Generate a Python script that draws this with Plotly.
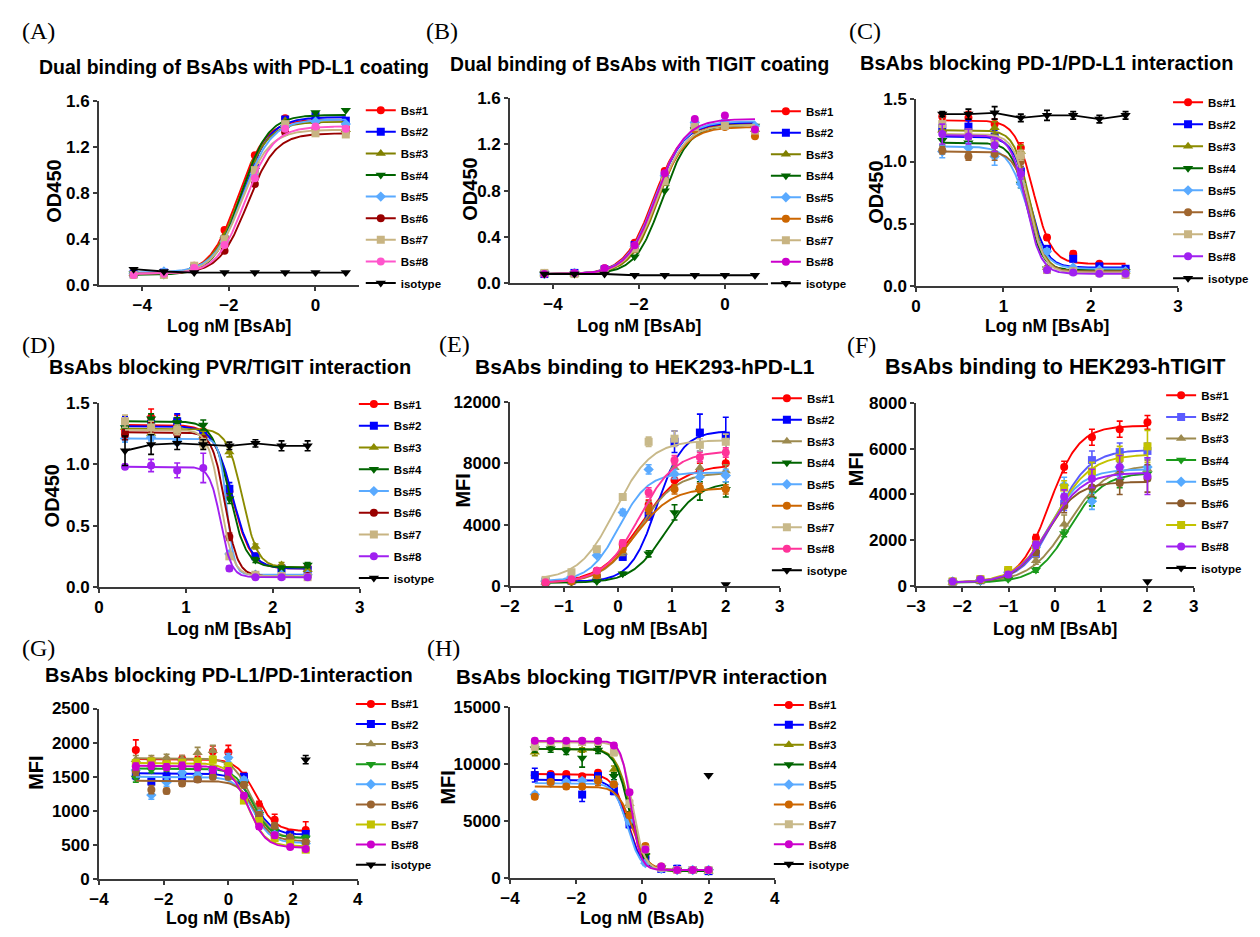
import numpy as np
import plotly.graph_objects as go

# ---------------- DATA ----------------
BS_NAMES = ["Bs#1", "Bs#2", "Bs#3", "Bs#4", "Bs#5", "Bs#6", "Bs#7", "Bs#8"]
BS_SYMBOLS = ["circle", "square", "triangle-up", "triangle-down", "diamond", "circle", "square", "circle"]

# (A) Dual binding with PD-L1 coating
A_x = [-4.2, -3.5, -2.8, -2.1, -1.4, -0.7, 0.0, 0.7]
A_y = [
    [0.09, 0.10, 0.17, 0.48, 1.13, 1.45, 1.44, 1.37],
    [0.10, 0.11, 0.15, 0.40, 1.02, 1.44, 1.47, 1.43],
    [0.10, 0.11, 0.16, 0.43, 1.08, 1.43, 1.42, 1.35],
    [0.10, 0.09, 0.14, 0.37, 1.00, 1.36, 1.50, 1.52],
    [0.10, 0.12, 0.15, 0.38, 0.97, 1.38, 1.42, 1.40],
    [0.09, 0.10, 0.13, 0.30, 0.88, 1.33, 1.36, 1.33],
    [0.09, 0.09, 0.17, 0.40, 1.00, 1.40, 1.32, 1.31],
    [0.09, 0.10, 0.15, 0.35, 0.93, 1.36, 1.38, 1.36],
]
A_iso = [0.14, 0.12, 0.11, 0.11, 0.11, 0.11, 0.11, 0.11]
A_bottom = [0.10, 0.10, 0.10, 0.09, 0.11, 0.10, 0.10, 0.10]
A_top = [1.44, 1.46, 1.42, 1.48, 1.44, 1.32, 1.35, 1.38]
A_logec50 = [-1.79, -1.70, -1.76, -1.72, -1.68, -1.57, -1.72, -1.62]
A_hill = [1.35, 1.35, 1.35, 1.4, 1.3, 1.35, 1.35, 1.35]
A_colors = ["#FF0000", "#0000FF", "#808000", "#006400", "#5AAAFF", "#990000", "#C8B482", "#FF55CC"]

# (B) Dual binding with TIGIT coating
B_x = [-4.2, -3.5, -2.8, -2.1, -1.4, -0.7, 0.0, 0.7]
B_y = [
    [0.09, 0.09, 0.13, 0.35, 0.97, 1.36, 1.37, 1.35],
    [0.08, 0.09, 0.12, 0.33, 0.93, 1.37, 1.38, 1.34],
    [0.08, 0.08, 0.11, 0.28, 0.86, 1.35, 1.36, 1.33],
    [0.08, 0.08, 0.10, 0.23, 0.80, 1.33, 1.37, 1.36],
    [0.08, 0.09, 0.12, 0.32, 0.93, 1.39, 1.40, 1.36],
    [0.08, 0.08, 0.12, 0.30, 0.90, 1.33, 1.35, 1.27],
    [0.09, 0.08, 0.11, 0.30, 0.88, 1.35, 1.36, 1.32],
    [0.08, 0.09, 0.13, 0.33, 0.95, 1.42, 1.45, 1.33],
]
B_iso = [0.08, 0.08, 0.08, 0.07, 0.07, 0.07, 0.07, 0.07]
B_bottom = [0.08, 0.08, 0.08, 0.08, 0.08, 0.08, 0.08, 0.08]
B_top = [1.38, 1.39, 1.37, 1.37, 1.40, 1.35, 1.37, 1.42]
B_logec50 = [-1.66, -1.62, -1.55, -1.46, -1.62, -1.58, -1.58, -1.60]
B_hill = [1.3, 1.3, 1.35, 1.4, 1.3, 1.3, 1.3, 1.3]
B_colors = ["#FF0000", "#0000FF", "#808000", "#006400", "#5AAAFF", "#CC6600", "#C8B482", "#CC00CC"]

# (C) Blocking PD-1/PD-L1 interaction
C_x = [0.3, 0.6, 0.9, 1.2, 1.5, 1.8, 2.1, 2.4]
C_y = [
    [1.36, 1.35, 1.30, 1.11, 0.39, 0.26, 0.18, 0.14],
    [1.27, 1.28, 1.20, 0.92, 0.30, 0.22, 0.16, 0.14],
    [1.25, 1.22, 1.27, 1.08, 0.15, 0.12, 0.11, 0.12],
    [1.17, 1.15, 1.12, 0.82, 0.14, 0.12, 0.12, 0.12],
    [1.08, 1.11, 1.04, 0.82, 0.28, 0.15, 0.13, 0.12],
    [1.09, 1.04, 1.06, 1.00, 0.14, 0.12, 0.11, 0.11],
    [1.30, 1.22, 1.16, 1.05, 0.13, 0.12, 0.11, 0.09],
    [1.22, 1.20, 1.13, 0.90, 0.13, 0.11, 0.10, 0.10],
]
C_err = [
    [0.03, 0.05, 0.04, 0.04, 0.02, 0.02, 0.01, 0.01],
    [0.04, 0.05, 0.05, 0.04, 0.02, 0.02, 0.01, 0.01],
    [0.05, 0.04, 0.05, 0.05, 0.01, 0.01, 0.01, 0.01],
    [0.04, 0.03, 0.04, 0.03, 0.01, 0.01, 0.01, 0.01],
    [0.05, 0.04, 0.07, 0.03, 0.02, 0.01, 0.01, 0.01],
    [0.03, 0.03, 0.05, 0.04, 0.01, 0.01, 0.01, 0.01],
    [0.06, 0.04, 0.04, 0.04, 0.01, 0.01, 0.01, 0.01],
    [0.08, 0.06, 0.05, 0.04, 0.01, 0.01, 0.01, 0.01],
]
C_iso = [1.38, 1.38, 1.39, 1.35, 1.37, 1.37, 1.34, 1.37]
C_iso_err = [0.02, 0.04, 0.05, 0.03, 0.04, 0.03, 0.03, 0.03]
C_bottom = [0.18, 0.15, 0.12, 0.13, 0.14, 0.12, 0.11, 0.10]
C_top = [1.33, 1.20, 1.25, 1.15, 1.12, 1.08, 1.22, 1.21]
C_logec50 = [1.345, 1.30, 1.30, 1.27, 1.27, 1.30, 1.29, 1.26]
C_hill = [-4.2, -4.5, -5.0, -5.0, -4.0, -5.0, -5.0, -5.0]
C_colors = ["#FF0000", "#0000FF", "#8B8B00", "#006400", "#5AAAFF", "#A0662E", "#C8B482", "#A020F0"]

# (D) Blocking PVR/TIGIT interaction
D_x = [0.3, 0.6, 0.9, 1.2, 1.5, 1.8, 2.1, 2.4]
D_y = [
    [1.27, 1.38, 1.35, 1.25, 0.78, 0.25, 0.16, 0.16],
    [1.33, 1.33, 1.35, 1.24, 0.80, 0.25, 0.15, 0.14],
    [1.30, 1.25, 1.31, 1.23, 1.10, 0.33, 0.18, 0.14],
    [1.30, 1.37, 1.34, 1.32, 0.72, 0.22, 0.15, 0.18],
    [1.21, 1.22, 1.19, 1.18, 0.27, 0.10, 0.10, 0.10],
    [1.24, 1.30, 1.25, 1.20, 0.41, 0.10, 0.09, 0.09],
    [1.35, 1.30, 1.28, 1.17, 0.25, 0.10, 0.09, 0.08],
    [0.98, 0.99, 0.95, 0.97, 0.15, 0.08, 0.08, 0.08],
]
D_err = [
    [0.05, 0.07, 0.05, 0.04, 0.04, 0.02, 0.02, 0.02],
    [0.06, 0.05, 0.06, 0.04, 0.05, 0.02, 0.02, 0.02],
    [0.05, 0.04, 0.04, 0.04, 0.04, 0.02, 0.02, 0.02],
    [0.04, 0.04, 0.04, 0.04, 0.04, 0.02, 0.02, 0.02],
    [0.03, 0.03, 0.03, 0.03, 0.02, 0.01, 0.01, 0.01],
    [0.04, 0.04, 0.03, 0.03, 0.03, 0.01, 0.01, 0.01],
    [0.05, 0.05, 0.04, 0.04, 0.02, 0.01, 0.01, 0.01],
    [0.02, 0.05, 0.06, 0.12, 0.02, 0.01, 0.01, 0.01],
]
D_iso = [1.11, 1.16, 1.17, 1.16, 1.15, 1.17, 1.15, 1.15]
D_iso_err = [0.12, 0.08, 0.05, 0.04, 0.03, 0.03, 0.04, 0.04]
D_bottom = [0.15, 0.15, 0.16, 0.16, 0.10, 0.09, 0.09, 0.08]
D_top = [1.32, 1.31, 1.29, 1.35, 1.21, 1.26, 1.28, 0.98]
D_logec50 = [1.53, 1.54, 1.65, 1.50, 1.47, 1.45, 1.40, 1.40]
D_hill = [-4.0, -4.0, -5.0, -4.5, -10.0, -6.0, -6.0, -7.0]
D_colors = ["#FF0000", "#0000FF", "#8B8B00", "#006400", "#5AAAFF", "#990000", "#C8B482", "#A020F0"]

# (E) Binding to HEK293-hPD-L1
E_x = [-1.34, -0.86, -0.39, 0.09, 0.57, 1.05, 1.52, 2.0]
E_y = [
    [250, 400, 1000, 2700, 5300, 6900, 7500, 8000],
    [300, 350, 500, 1900, 4600, 9400, 10000, 9800],
    [250, 300, 600, 2200, 5200, 7700, 7700, 7500],
    [200, 250, 300, 800, 2100, 4800, 6200, 6300],
    [300, 600, 2000, 4800, 7600, 7300, 7100, 7200],
    [200, 300, 700, 2400, 5000, 6300, 6400, 6300],
    [400, 900, 2400, 5800, 9400, 9600, 9200, 9400],
    [250, 450, 1000, 2800, 6100, 8200, 8400, 8700],
]
E_err = [
    [50, 50, 100, 200, 300, 300, 500, 600],
    [50, 50, 100, 200, 300, 700, 1200, 1200],
    [50, 50, 100, 200, 300, 300, 400, 400],
    [30, 30, 50, 100, 200, 500, 600, 500],
    [50, 50, 100, 200, 300, 300, 400, 400],
    [50, 50, 100, 200, 300, 300, 300, 300],
    [50, 50, 150, 200, 300, 500, 400, 500],
    [50, 50, 100, 200, 300, 300, 300, 300],
]
E_iso_x = [2.0]
E_iso = [100]
E_bottom = [200, 300, 200, 200, 300, 200, 400, 200]
E_top = [7900, 10100, 7400, 6800, 7400, 6400, 9500, 8800]
E_logec50 = [0.42, 0.72, 0.40, 0.88, 0.02, 0.32, -0.05, 0.40]
E_hill = [1.15, 1.8, 1.3, 1.4, 1.6, 1.3, 1.3, 1.3]
E_colors = ["#FF0000", "#0000FF", "#9C8A4F", "#006400", "#5AAAFF", "#CC6600", "#C8B98A", "#FF3399"]

# (F) Binding to HEK293-hTIGIT
F_x = [-2.21, -1.61, -1.01, -0.41, 0.2, 0.8, 1.4, 2.0]
F_y = [
    [200, 300, 700, 2100, 5200, 6500, 6850, 7150],
    [180, 250, 550, 1400, 3600, 5500, 5850, 5900],
    [150, 200, 450, 1100, 2700, 3900, 5000, 5100],
    [150, 200, 300, 700, 2300, 3800, 4600, 4900],
    [200, 250, 600, 1700, 4400, 3700, 5200, 5200],
    [200, 250, 500, 1500, 3500, 4300, 4500, 4700],
    [200, 300, 700, 1800, 4300, 5000, 5600, 6100],
    [200, 300, 500, 1800, 3900, 4700, 5200, 4800],
]
F_err = [
    [50, 50, 100, 150, 250, 350, 350, 300],
    [50, 50, 100, 150, 300, 400, 400, 350],
    [50, 50, 100, 150, 400, 400, 400, 400],
    [50, 50, 50, 100, 150, 300, 300, 300],
    [50, 50, 100, 150, 350, 350, 400, 400],
    [50, 50, 100, 150, 300, 400, 500, 600],
    [50, 50, 100, 150, 300, 400, 500, 700],
    [50, 50, 100, 150, 300, 400, 500, 800],
]
F_iso_x = [2.0]
F_iso = [200]
F_bottom = [150, 150, 150, 150, 150, 150, 150, 150]
F_top = [7000, 5950, 5300, 4950, 5100, 4550, 5750, 4950]
F_logec50 = [-0.12, 0.02, 0.28, 0.32, -0.12, -0.18, -0.02, -0.12]
F_hill = [1.37, 1.2, 1.05, 1.2, 1.25, 1.3, 1.1, 1.2]
F_colors = ["#FF0000", "#5B5BFF", "#9C8A4F", "#1A9A1A", "#55AAFF", "#8B5A2B", "#C2C200", "#A020F0"]

# (G) Blocking PD-L1/PD-1 interaction
G_x = [-2.86, -2.38, -1.91, -1.43, -0.95, -0.48, 0.0, 0.48, 0.95, 1.43, 1.91, 2.39]
G_y = [
    [1890, 1720, 1720, 1760, 1740, 1870, 1860, 1500, 1080, 870, 650, 720],
    [1520, 1430, 1500, 1500, 1480, 1600, 1560, 1500, 950, 700, 650, 660],
    [1750, 1760, 1780, 1760, 1850, 1880, 1700, 1400, 1000, 750, 620, 580],
    [1480, 1600, 1620, 1620, 1600, 1620, 1620, 1400, 950, 700, 600, 600],
    [1600, 1230, 1420, 1560, 1520, 1600, 1780, 1450, 950, 650, 550, 520],
    [1580, 1310, 1290, 1400, 1460, 1500, 1500, 1380, 940, 780, 600, 540],
    [1700, 1720, 1680, 1700, 1720, 1750, 1650, 1150, 850, 600, 520, 430],
    [1650, 1660, 1640, 1660, 1640, 1600, 1580, 1220, 770, 640, 470, 440],
]
G_err = [
    [150, 60, 60, 50, 60, 80, 100, 60, 60, 80, 60, 120],
    [60, 60, 60, 60, 60, 60, 60, 40, 40, 40, 30, 40],
    [60, 50, 50, 50, 80, 80, 60, 40, 40, 40, 30, 40],
    [60, 40, 40, 40, 40, 40, 40, 40, 40, 40, 30, 40],
    [60, 60, 60, 50, 50, 50, 60, 40, 40, 40, 30, 30],
    [60, 60, 40, 40, 40, 40, 40, 40, 40, 40, 30, 30],
    [50, 50, 50, 50, 50, 50, 50, 40, 40, 40, 30, 30],
    [50, 50, 50, 50, 50, 50, 50, 40, 40, 40, 30, 30],
]
G_iso_x = [2.39]
G_iso = [1750]
G_iso_err = [60]
G_bottom = [700, 650, 600, 600, 530, 560, 480, 460]
G_top = [1760, 1550, 1770, 1620, 1500, 1440, 1700, 1660]
G_logec50 = [0.85, 0.80, 0.72, 0.75, 0.75, 0.82, 0.58, 0.60]
G_hill = [-1.5, -1.5, -1.5, -1.6, -1.6, -1.7, -1.6, -1.6]
G_colors = ["#FF0000", "#0000FF", "#9C8A4F", "#1A9A1A", "#55AAFF", "#9B6430", "#C2C200", "#CC00CC"]

# (H) Blocking TIGIT/PVR interaction
H_x = [-3.25, -2.77, -2.3, -1.82, -1.34, -0.86, -0.39, 0.09, 0.57, 1.05, 1.52, 2.0]
H_y = [
    [9000, 9100, 9100, 8900, 9200, 8100, 5000, 1800, 900, 700, 700, 600],
    [9000, 8800, 8600, 7300, 8900, 7600, 4700, 1700, 800, 800, 700, 600],
    [11000, 11400, 11500, 11200, 11300, 9500, 6500, 2200, 900, 700, 650, 600],
    [11300, 11300, 11100, 10500, 11200, 8900, 5500, 2000, 900, 700, 650, 600],
    [7300, 8300, 8400, 8500, 8500, 8200, 5000, 1300, 800, 700, 700, 700],
    [7100, 8400, 8000, 8000, 8500, 8200, 5500, 2800, 1000, 700, 700, 700],
    [11500, 11900, 11800, 11900, 11900, 11000, 6500, 2500, 900, 700, 700, 700],
    [12000, 12000, 12000, 12000, 12000, 11600, 7500, 2500, 1000, 700, 700, 700],
]
H_err = [
    [300, 200, 200, 200, 200, 300, 300, 200, 100, 100, 100, 100],
    [600, 400, 300, 600, 300, 300, 300, 200, 100, 300, 100, 100],
    [300, 200, 200, 200, 200, 300, 300, 200, 100, 100, 100, 100],
    [300, 300, 300, 800, 300, 300, 300, 200, 100, 100, 100, 100],
    [200, 200, 200, 200, 200, 200, 200, 200, 100, 100, 100, 100],
    [200, 200, 200, 200, 400, 200, 200, 200, 100, 100, 100, 100],
    [300, 200, 200, 200, 200, 300, 300, 200, 100, 100, 100, 100],
    [200, 200, 200, 200, 200, 200, 200, 200, 100, 100, 100, 100],
]
H_iso_x = [2.0]
H_iso = [9000]
H_bottom = [700, 700, 600, 600, 700, 700, 700, 700]
H_top = [9100, 8600, 11300, 11300, 8300, 8000, 11900, 12000]
H_logec50 = [-0.45, -0.45, -0.35, -0.40, -0.45, -0.30, -0.30, -0.35]
H_hill = [-2.0, -2.0, -2.0, -2.0, -2.2, -2.0, -2.5, -3.0]
H_colors = ["#FF0000", "#0000FF", "#8B8B00", "#006400", "#5AAAFF", "#CC6600", "#C8B98A", "#CC00CC"]

TITLES = [
    "Dual binding of BsAbs with PD-L1 coating",
    "Dual binding of BsAbs with TIGIT coating",
    "BsAbs blocking PD-1/PD-L1 interaction",
    "BsAbs blocking PVR/TIGIT interaction",
    "BsAbs binding to HEK293-hPD-L1",
    "BsAbs binding to HEK293-hTIGIT",
    "BsAbs blocking PD-L1/PD-1interaction",
    "BsAbs blocking TIGIT/PVR interaction",
]
LETTERS = ["(A)", "(B)", "(C)", "(D)", "(E)", "(F)", "(G)", "(H)"]
Y_TITLES = ["OD450", "OD450", "OD450", "OD450", "MFI", "MFI", "MFI", "MFI"]
X_TITLES = ["Log nM [BsAb]"] * 6 + ["Log nM (BsAb)"] * 2

# ---------------- LAYOUT / STYLE ----------------
W, H = 1260, 937
FONT = "Liberation Sans, Arial, sans-serif"
SERIF = "Liberation Serif, Times New Roman, serif"
AXC = "#3a3a3a"


def px(v):
    return v / W


def py(v):
    return 1 - v / H


# plot-area pixel boxes: (left, right, top, bottom)
BOXES = [
    (90, 353, 94, 282), (506, 767, 91, 280), (917, 1182, 92, 283),
    (90, 354, 402, 590), (506, 779, 401, 589), (917, 1198, 402, 589),
    (90, 352, 714, 888), (506, 774, 712, 887),
]
XRANGES = [[-5, 1], [-5, 1], [0, 3], [0, 3], [-2, 3], [-3, 3], [-4, 4], [-4, 4]]
XTICKS = [[-4, -2, 0], [-4, -2, 0], [0, 1, 2, 3], [0, 1, 2, 3],
          [-2, -1, 0, 1, 2, 3], [-3, -2, -1, 0, 1, 2, 3], [-4, -2, 0, 2, 4], [-4, -2, 0, 2, 4]]
YRANGES = [[0, 1.6], [0, 1.6], [0, 1.5], [0, 1.5], [0, 12000], [0, 8000], [0, 2500], [0, 15000]]
YDTICK = [0.4, 0.4, 0.5, 0.5, 4000, 2000, 500, 5000]
YFMT = [".1f", ".1f", ".1f", ".1f", "d", "d", "d", "d"]
TITLE_POS = [(227, 59), (637, 57), (1049, 55), (223, 365), (643, 365), (1058, 365), (222, 680), (639, 681)]
TITLE_SIZE = [19.5, 19.3, 20, 20, 21, 21.5, 20, 20.5]
LETTER_POS = [(10, 22), (419, 22), (847, 22), (10, 343), (432, 342), (845, 343), (10, 652), (420, 652)]
YT_POS = [(45, 186), (466, 184), (877, 187), (42, 497), (458, 492), (857, 470), (27, 780), (443, 795)]
XT_Y = [324, 324, 324, 633, 633, 633, 928, 928]
LEG_X = [355, 765, 1172, 348, 766, 1165, 345, 768]
LEG_FIRST = [103, 104, 95, 403, 397, 394, 709, 710]
LEG_FONT = [11.5, 11.5, 11.5, 11.5, 11.5, 11.5, 11.5, 11.5]
LEG_GAP = [2.6, 2.5, 3.0, 2.75, 2.5, 2.6, 1.1, 0.9]

PANELS = [
    dict(x=A_x, y=A_y, err=None, iso_x=A_x, iso=A_iso, iso_err=None, bot=A_bottom, top=A_top, c=A_logec50, h=A_hill, col=A_colors),
    dict(x=B_x, y=B_y, err=None, iso_x=B_x, iso=B_iso, iso_err=None, bot=B_bottom, top=B_top, c=B_logec50, h=B_hill, col=B_colors),
    dict(x=C_x, y=C_y, err=C_err, iso_x=C_x, iso=C_iso, iso_err=C_iso_err, bot=C_bottom, top=C_top, c=C_logec50, h=C_hill, col=C_colors),
    dict(x=D_x, y=D_y, err=D_err, iso_x=D_x, iso=D_iso, iso_err=D_iso_err, bot=D_bottom, top=D_top, c=D_logec50, h=D_hill, col=D_colors),
    dict(x=E_x, y=E_y, err=E_err, iso_x=E_iso_x, iso=E_iso, iso_err=None, bot=E_bottom, top=E_top, c=E_logec50, h=E_hill, col=E_colors),
    dict(x=F_x, y=F_y, err=F_err, iso_x=F_iso_x, iso=F_iso, iso_err=None, bot=F_bottom, top=F_top, c=F_logec50, h=F_hill, col=F_colors),
    dict(x=G_x, y=G_y, err=G_err, iso_x=G_iso_x, iso=G_iso, iso_err=G_iso_err, bot=G_bottom, top=G_top, c=G_logec50, h=G_hill, col=G_colors),
    dict(x=H_x, y=H_y, err=H_err, iso_x=H_iso_x, iso=H_iso, iso_err=None, bot=H_bottom, top=H_top, c=H_logec50, h=H_hill, col=H_colors),
]


def msize(sym):
    return 9 if sym.startswith("triangle") else 8


fig = go.Figure()
layout = dict(
    width=W, height=H, margin=dict(l=0, r=0, t=0, b=0),
    paper_bgcolor="white", plot_bgcolor="white", showlegend=True,
    font=dict(family=FONT, color="black"),
)
annotations = []

for k, p in enumerate(PANELS):
    n = k + 1
    xa = "x" if n == 1 else f"x{n}"
    ya = "y" if n == 1 else f"y{n}"
    leg = "legend" if n == 1 else f"legend{n}"
    grid = np.linspace(min(p["x"]), max(p["x"]), 240)
    for i in range(8):
        col = p["col"][i]
        sym = BS_SYMBOLS[i]
        curve = p["bot"][i] + (p["top"][i] - p["bot"][i]) / (1 + 10 ** ((p["c"][i] - grid) * p["h"][i]))
        fig.add_trace(go.Scatter(x=grid, y=curve, mode="lines", line=dict(color=col, width=1.9),
                                 xaxis=xa, yaxis=ya, showlegend=False, hoverinfo="skip", cliponaxis=False))
        err = None
        if p["err"] is not None:
            err = dict(type="data", array=p["err"][i], color=col, thickness=1.6, width=3, visible=True)
        fig.add_trace(go.Scatter(x=p["x"], y=p["y"][i], mode="markers",
                                 marker=dict(symbol=sym, size=msize(sym), color=col),
                                 error_y=err, xaxis=xa, yaxis=ya, showlegend=False, cliponaxis=False))
        fig.add_trace(go.Scatter(x=[None], y=[None], mode="lines+markers", name=BS_NAMES[i],
                                 line=dict(color=col, width=2),
                                 marker=dict(symbol=sym, size=msize(sym), color=col),
                                 xaxis=xa, yaxis=ya, legend=leg, legendgroup=f"g{n}_{i}"))
    # isotype
    ierr = None
    if p["iso_err"] is not None:
        ierr = dict(type="data", array=p["iso_err"], color="black", thickness=1.6, width=3, visible=True)
    fig.add_trace(go.Scatter(x=p["iso_x"], y=p["iso"], mode="lines+markers" if len(p["iso"]) > 1 else "markers",
                             line=dict(color="black", width=1.9),
                             marker=dict(symbol="triangle-down", size=9, color="black"),
                             error_y=ierr, xaxis=xa, yaxis=ya, showlegend=False, cliponaxis=False))
    fig.add_trace(go.Scatter(x=[None], y=[None], mode="lines+markers", name="isotype",
                             line=dict(color="black", width=2),
                             marker=dict(symbol="triangle-down", size=9, color="black"),
                             xaxis=xa, yaxis=ya, legend=leg, legendgroup=f"g{n}_iso"))

    l, r, t, b = BOXES[k]
    xkey = "xaxis" if n == 1 else f"xaxis{n}"
    ykey = "yaxis" if n == 1 else f"yaxis{n}"
    common = dict(showline=True, linecolor=AXC, linewidth=1.6, ticks="outside", ticklen=4,
                  tickwidth=1.6, tickcolor=AXC, showgrid=False, zeroline=False, fixedrange=True,
                  tickfont=dict(family=FONT, size=17, color="black", weight="bold"))
    layout[xkey] = dict(common, domain=[px(l), px(r)], range=XRANGES[k], tickmode="array",
                        tickvals=XTICKS[k], anchor=ya)
    layout[ykey] = dict(common, domain=[py(b), py(t)], range=YRANGES[k], tick0=0, dtick=YDTICK[k],
                        tickformat=YFMT[k], anchor=xa)
    lh = max(LEG_FONT[k] * 1.3, 16) + 3
    ltop = LEG_FIRST[k] - lh / 2 - 5
    layout[leg] = dict(x=px(LEG_X[k]), y=py(ltop), xanchor="left", yanchor="top", xref="paper", yref="paper",
                       bgcolor="rgba(0,0,0,0)", borderwidth=0, traceorder="grouped",
                       tracegroupgap=LEG_GAP[k], itemwidth=30,
                       font=dict(family=FONT, size=LEG_FONT[k], color="black", weight="bold"))

    tx, ty = TITLE_POS[k]
    annotations.append(dict(text=TITLES[k], x=px(tx), y=py(ty), xref="paper", yref="paper",
                            xanchor="center", yanchor="middle", showarrow=False,
                            font=dict(family=FONT, size=TITLE_SIZE[k], color="black", weight="bold")))
    lx2, ly2 = LETTER_POS[k]
    annotations.append(dict(text=LETTERS[k], x=px(lx2), y=py(ly2), xref="paper", yref="paper",
                            xanchor="left", yanchor="middle", showarrow=False,
                            font=dict(family=SERIF, size=24, color="black")))
    yx, yy = YT_POS[k]
    annotations.append(dict(text=Y_TITLES[k], x=px(yx), y=py(yy), xref="paper", yref="paper",
                            xanchor="center", yanchor="middle", showarrow=False, textangle=-90,
                            font=dict(family=FONT, size=20, color="black", weight="bold")))
    annotations.append(dict(text=X_TITLES[k], x=px((l + r) / 2), y=py(XT_Y[k]), xref="paper", yref="paper",
                            xanchor="center", yanchor="middle", showarrow=False,
                            font=dict(family=FONT, size=17.5, color="black", weight="bold")))

layout["annotations"] = annotations
fig.update_layout(**layout)
fig.write_html("out.html", config={"displayModeBar": False},
               post_script="document.body.style.margin='0px';document.body.style.overflow='hidden';")
